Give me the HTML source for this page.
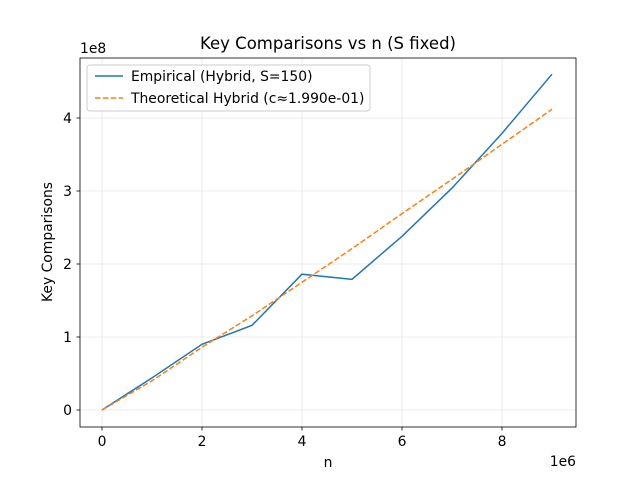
<!DOCTYPE html>
<html><head><meta charset="utf-8"><style>
body{margin:0;background:#fff}
svg text{font-family:"DejaVu Sans","Liberation Sans",sans-serif;fill:#000}
</style></head><body>
<svg id="chart" width="640" height="480" xmlns="http://www.w3.org/2000/svg">
<rect width="640" height="480" fill="#fff"/>
<g id="grid"></g>
<g id="series"></g>
<rect x="80" y="58" width="496" height="369" fill="none" stroke="#000" stroke-width="0.8"/>
<g id="ticks"></g>
<text x="328" y="49" font-size="16.5" text-anchor="middle">Key Comparisons vs n (S fixed)</text>
<text x="328" y="467" font-size="13.9" text-anchor="middle">n</text>
<text x="52" y="242" font-size="13.9" text-anchor="middle" transform="rotate(-90 52 242)">Key Comparisons</text>
<text x="576" y="466" font-size="13.9" text-anchor="end">1e6</text>
<text x="80" y="53" font-size="13.9">1e8</text>
<g>
<rect x="87" y="65" width="283" height="46" rx="3" fill="#fff" fill-opacity="0.8" stroke="#ccc"/>
<line x1="95" y1="76" x2="123" y2="76" stroke="#1f77b4" stroke-width="1.5"/>
<text x="131" y="81" font-size="13.9">Empirical (Hybrid, S=150)</text>
<line x1="95" y1="98" x2="123" y2="98" stroke="#ff7f0e" stroke-width="1.5" stroke-dasharray="5.5,2.4"/>
<text x="131" y="103" font-size="13.9">Theoretical Hybrid (c≈1.990e-01)</text>
</g>
</svg>
<script>
const nValues=[0,1,2,3,4,5,6,7,8,9];
const empirical=[0,0.44,0.90,1.16,1.86,1.79,2.38,3.04,3.79,4.60];
const theoretical=[0,0.40,0.86,1.29,1.75,2.21,2.69,3.16,3.64,4.12];
const xTicks=[0,2,4,6,8];
const yTicks=[0,1,2,3,4];
const NS="http://www.w3.org/2000/svg";
const X=v=>102+v*50, Y=v=>410-v*73;
function mk(t,a,p){const e=document.createElementNS(NS,t);for(const k in a)e.setAttribute(k,a[k]);p.appendChild(e);return e;}
const grid=document.getElementById('grid'),ticks=document.getElementById('ticks'),series=document.getElementById('series');
xTicks.forEach(v=>{
 const g=mk('line',{x1:X(v),x2:X(v),y1:58,y2:427,stroke:'#b0b0b0','stroke-opacity':0.3,'stroke-width':0.8},grid);
 
 
 const t=mk('line',{x1:X(v),x2:X(v),y1:427,y2:430.5,stroke:'#000','stroke-width':0.8},ticks);
 
 
 const l=mk('text',{x:X(v),y:446,'font-size':13.9,'text-anchor':'middle'},ticks);l.textContent=v;
 
 
});
yTicks.forEach(v=>{
 const g=mk('line',{x1:80,x2:576,y1:Y(v),y2:Y(v),stroke:'#b0b0b0','stroke-opacity':0.3,'stroke-width':0.8},grid);
 
 
 const t=mk('line',{x1:76.5,x2:80,y1:Y(v),y2:Y(v),stroke:'#000','stroke-width':0.8},ticks);
 
 
 const l=mk('text',{x:72,y:Y(v)+5,'font-size':13.9,'text-anchor':'end'},ticks);l.textContent=v;
 
 
});
const p1=mk('polyline',{points:nValues.map((n,i)=>X(n)+','+Y(empirical[i])).join(' '),fill:'none',stroke:'#1f77b4','stroke-width':1.5},series);


const p2=mk('polyline',{points:nValues.map((n,i)=>X(n)+','+Y(theoretical[i])).join(' '),fill:'none',stroke:'#ff7f0e','stroke-width':1.5,'stroke-dasharray':'5.5,2.4'},series);


</script>
</body></html>
